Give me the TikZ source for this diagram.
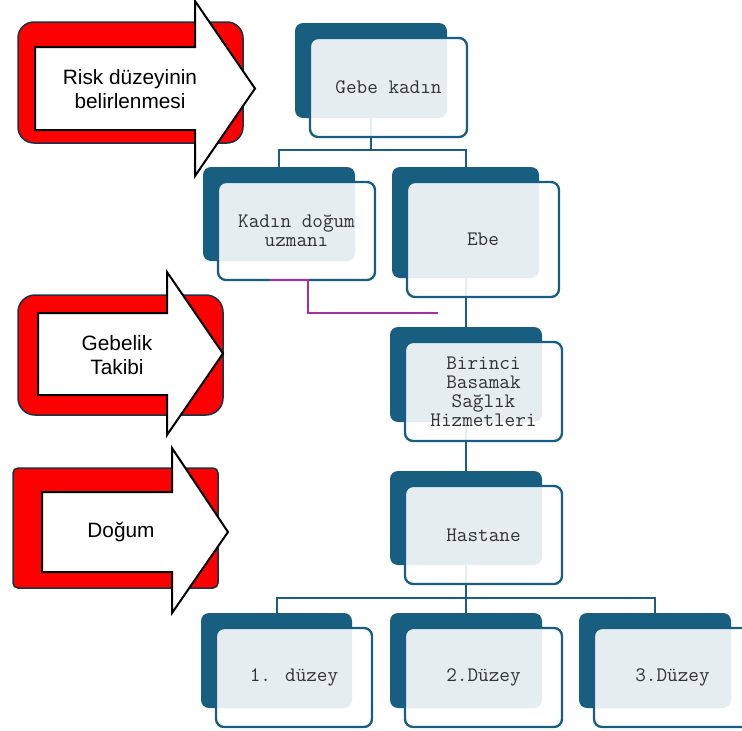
\documentclass[tikz,border=0pt]{standalone}
\usepackage{fontspec}
\setmainfont{Liberation Sans}
\definecolor{dblue}{RGB}{23,94,128}
\definecolor{navy}{RGB}{25,50,68}
\definecolor{magline}{RGB}{163,50,158}
\pgfdeclarelayer{bg}
\pgfsetlayers{bg,main}
\newcommand\obox[6]{%
  \node[backbox, minimum width=#4pt, minimum height=#5pt] (#1b) at (#2,#3) {};
  \node[frontbox, minimum width=#4pt+5pt, minimum height=#5pt+4pt] (#1) at (#2+15,#3+15) {#6};
}
\begin{document}
\begin{tikzpicture}[x=1pt,y=-1pt,
  backbox/.style={fill=dblue, rounded corners=8pt, anchor=north west, inner sep=0pt, outer sep=0pt},
  frontbox/.style={fill=white, fill opacity=0.89, text opacity=1, draw=dblue, draw opacity=1,
    line width=2.3pt, rounded corners=8pt, anchor=north west, inner sep=0pt, outer sep=0pt,
    font=\ttfamily\fontsize{20.6}{19}\selectfont, align=center, text=black!80},
  conn/.style={draw=dblue, line width=2pt},
  mag/.style={draw=magline, line width=2pt},
  redbox/.style={fill=red, draw=navy, line width=1.5pt},
  arrowshape/.style={fill=white, draw=black, line width=2pt, line join=miter},
  lab/.style={font=\fontsize{20.8}{23.5}\selectfont, align=center, inner sep=0pt, text=black}
]
\useasboundingbox (0,0) rectangle (742,731);

% ---- side arrows ----
\draw[redbox, rounded corners=16pt] (18,22) rectangle (243,143);
\draw[arrowshape] (35,47) -- (195,47) -- (195,1) -- (255,88.5) -- (195,176) -- (195,130) -- (35,130) -- cycle;
\node[lab, font=\fontsize{20.8}{24.5}\selectfont] (t1) at (130,89) {Risk düzeyinin\\belirlenmesi};

\draw[redbox, rounded corners=17pt] (18,295) rectangle (223,415);
\draw[arrowshape] (38,313) -- (167,313) -- (167,272) -- (223,353.5) -- (167,435) -- (167,395) -- (38,395) -- cycle;
\node[lab] (t2) at (117,355) {Gebelik\\Takibi};

\draw[redbox, rounded corners=5pt] (13,468) rectangle (218,588);
\draw[arrowshape] (42,492) -- (172,492) -- (172,448) -- (228,532) -- (172,613) -- (172,572) -- (42,572) -- cycle;
\node[lab] (t3) at (121,532) {Doğum};

% ---- org chart ----
\obox{gebe}{295}{23}{152}{95}{Gebe kadın}
\obox{kadin}{203}{167}{152}{94}{Kadın doğum\\uzmanı}
\obox{ebe}{392}{167}{147}{111}{Ebe}
\obox{bir}{390}{327}{152}{95}{Birinci\\Basamak\\Sağlık\\Hizmetleri}
\obox{has}{390}{471}{152}{94}{Hastane}
\obox{da}{201}{613}{151}{95}{1. düzey}
\obox{db}{390}{613}{152}{95}{2.Düzey}
\obox{dc}{579}{613}{152}{95}{3.Düzey}

\coordinate (bar1) at (0,150);
\coordinate (bar2) at (0,598);
\coordinate (magend) at (438,313);

\begin{pgfonlayer}{bg}
  \draw[conn] (gebeb.center) -- (gebeb.center |- bar1) -| (kadinb.center);
  \draw[conn] (gebeb.center |- bar1) -| (ebeb.center);
  \draw[conn] (ebeb.center) -- (ebeb.center |- birb.center);
  \draw[conn] (birb.center) -- (hasb.center);
  \draw[conn] (hasb.center) -- (hasb.center |- bar2) -| (dab.center);
  \draw[conn] (hasb.center |- bar2) -| (dcb.center);
  \draw[conn] (hasb.center) -- (hasb.center |- dbb.center);
\end{pgfonlayer}

\draw[mag] ([xshift=-27pt]kadin.south) -- ([xshift=11pt]kadin.south) |- (magend);
\end{tikzpicture}
\end{document}
